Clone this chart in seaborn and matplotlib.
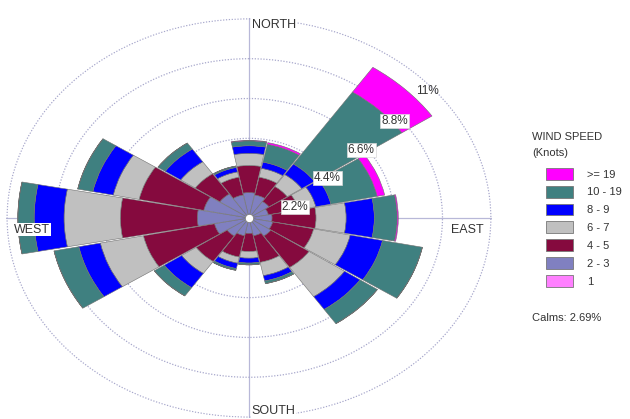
import numpy as np
import matplotlib
matplotlib.use('Agg')
import matplotlib.pyplot as plt
import matplotlib.patches as mpatches
import seaborn as sns

# wind rose data, % of time per direction and speed class
directions = ['N', 'NNE', 'NE', 'ENE', 'E', 'ESE', 'SE', 'SSE',
              'S', 'SSW', 'SW', 'WSW', 'W', 'WNW', 'NW', 'NNW']
speed_1 = [0.1, 0.1, 0.1, 0.1, 0.1, 0.1, 0.1, 0.1, 0.1, 0.1, 0.1, 0.1, 0.1, 0.1, 0.1, 0.1]
speed_2_3 = [1.3, 1.2, 1.0, 0.8, 0.95, 1.0, 1.1, 0.9, 0.75, 0.9, 1.1, 1.5, 2.25, 2.0, 1.5, 1.2]
speed_4_5 = [1.5, 1.0, 1.0, 1.4, 2.0, 1.9, 2.1, 1.5, 1.0, 1.2, 1.7, 3.3, 3.5, 3.0, 1.35, 1.0]
speed_6_7 = [0.67, 0.5, 0.8, 0.8, 1.37, 1.7, 1.95, 0.75, 0.37, 0.35, 0.8, 2.0, 2.56, 1.2, 0.8, 0.3]
speed_8_9 = [0.42, 0.35, 0.7, 0.7, 1.28, 1.5, 0.85, 0.3, 0.27, 0.3, 0.95, 1.0, 1.36, 0.95, 0.85, 0.25]
speed_10_19 = [0.27, 1.0, 4.8, 2.15, 1.04, 1.85, 0.95, 0.15, 0.1, 0.1, 0.55, 1.15, 0.74, 0.7, 0.4, 0.08]
speed_19 = [0.03, 0.1, 1.65, 0.35, 0.05, 0, 0, 0, 0, 0, 0, 0, 0, 0, 0, 0]
calms = 2.69

speed_labels = ['1', '2 - 3', '4 - 5', '6 - 7', '8 - 9', '10 - 19', '>= 19']
speed_colors = ['#ff80ff', '#8080c0', '#850a3e', '#c0c0c0', '#0000ff', '#3f8080', '#ff00ff']
ring_values = [2.2, 4.4, 6.6, 8.8, 11]
ring_labels = ['2.2%', '4.4%', '6.6%', '8.8%', '11%']

sns.set_style('white')
plt.rcParams['font.family'] = ['Liberation Sans', 'DejaVu Sans']

fig = plt.figure(figsize=(6.3, 4.19), dpi=100)
ax = fig.add_axes([0.0095, 0.0024, 0.7714, 0.9547], projection='polar')
ax.set_aspect('auto')
ax.set_theta_zero_location('N')
ax.set_theta_direction(-1)

theta = np.deg2rad(np.arange(len(directions)) * 22.5)
width = np.deg2rad(22.5) * 0.97
series = [speed_1, speed_2_3, speed_4_5, speed_6_7, speed_8_9, speed_10_19, speed_19]
bottom = np.zeros(len(directions))
for vals, col in zip(series, sns.color_palette(speed_colors)):
    vals = np.array(vals)
    ax.bar(theta, vals, width=width, bottom=bottom, color=col,
           edgecolor='#707070', linewidth=0.4, zorder=3)
    bottom += vals

# calm circle in the middle
ax.plot(0, 0, 'o', ms=6, mfc='white', mec='#808080', mew=0.6, zorder=6)

ax.set_ylim(0, 11.05)
ax.set_yticks(ring_values)
ax.set_yticklabels([])
ax.set_xticks(np.deg2rad([0, 90, 180, 270]))
ax.set_xticklabels([])
ax.yaxis.grid(True, color='#a8a8cc', linestyle=(0, (1, 1.3)), linewidth=0.9)
ax.xaxis.grid(True, color='#b8b8d8', linestyle='-', linewidth=0.9)
ax.spines['polar'].set_visible(False)
ax.set_axisbelow(True)

# ring labels
label_pos = [(73.9, 2.17), (58.4, 4.19), (53.8, 6.33), (50.9, 8.52), (49.0, 10.73)]
for (ang, r), txt in zip(label_pos, ring_labels):
    box = dict(fc='white', ec='#d8d8d8', lw=0.5, pad=0.6) if txt != '11%' else None
    ax.text(np.deg2rad(ang), r, txt, ha='center', va='center', fontsize=8.5,
            color='#333333', bbox=box, zorder=7)

# compass labels
lab_box = dict(fc='white', ec='none', pad=0.5)
ax.annotate('NORTH', xy=(0, 11), xytext=(2, 0), textcoords='offset points',
            ha='left', va='top', fontsize=9, color='#333333', bbox=lab_box, zorder=7)
ax.annotate('SOUTH', xy=(np.pi, 11), xytext=(2, 0), textcoords='offset points',
            ha='left', va='bottom', fontsize=9, color='#333333', bbox=lab_box, zorder=7)
ax.annotate('EAST', xy=(np.pi / 2, 11), xytext=(-5, -4), textcoords='offset points',
            ha='right', va='top', fontsize=9, color='#333333', bbox=lab_box, zorder=7)
ax.annotate('WEST', xy=(3 * np.pi / 2, 11), xytext=(5, -4), textcoords='offset points',
            ha='left', va='top', fontsize=9, color='#333333', bbox=lab_box, zorder=7)

# legend
handles = [mpatches.Patch(facecolor=c, edgecolor='#777777', linewidth=0.6, label=l)
           for l, c in zip(speed_labels[::-1], speed_colors[::-1])]
fs = 8
px = fs * 100 / 72
fig.legend(handles=handles, loc='upper left', bbox_to_anchor=(546 / 630, 1 - 168 / 419),
           frameon=False, fontsize=fs, handlelength=27 / px, handleheight=14 / px,
           labelspacing=6 / px, handletextpad=14 / px, borderpad=0, borderaxespad=0,
           labelcolor='#333333')
fig.text(532 / 630, 1 - 137 / 419, 'WIND SPEED', fontsize=fs, color='#333333', va='center')
fig.text(532 / 630, 1 - 153 / 419, '(Knots)', fontsize=fs, color='#333333', va='center')
fig.text(532 / 630, 1 - 318 / 419, 'Calms: {}%'.format(calms), fontsize=fs,
         color='#333333', va='center')

fig.savefig('out.png', dpi=100)
